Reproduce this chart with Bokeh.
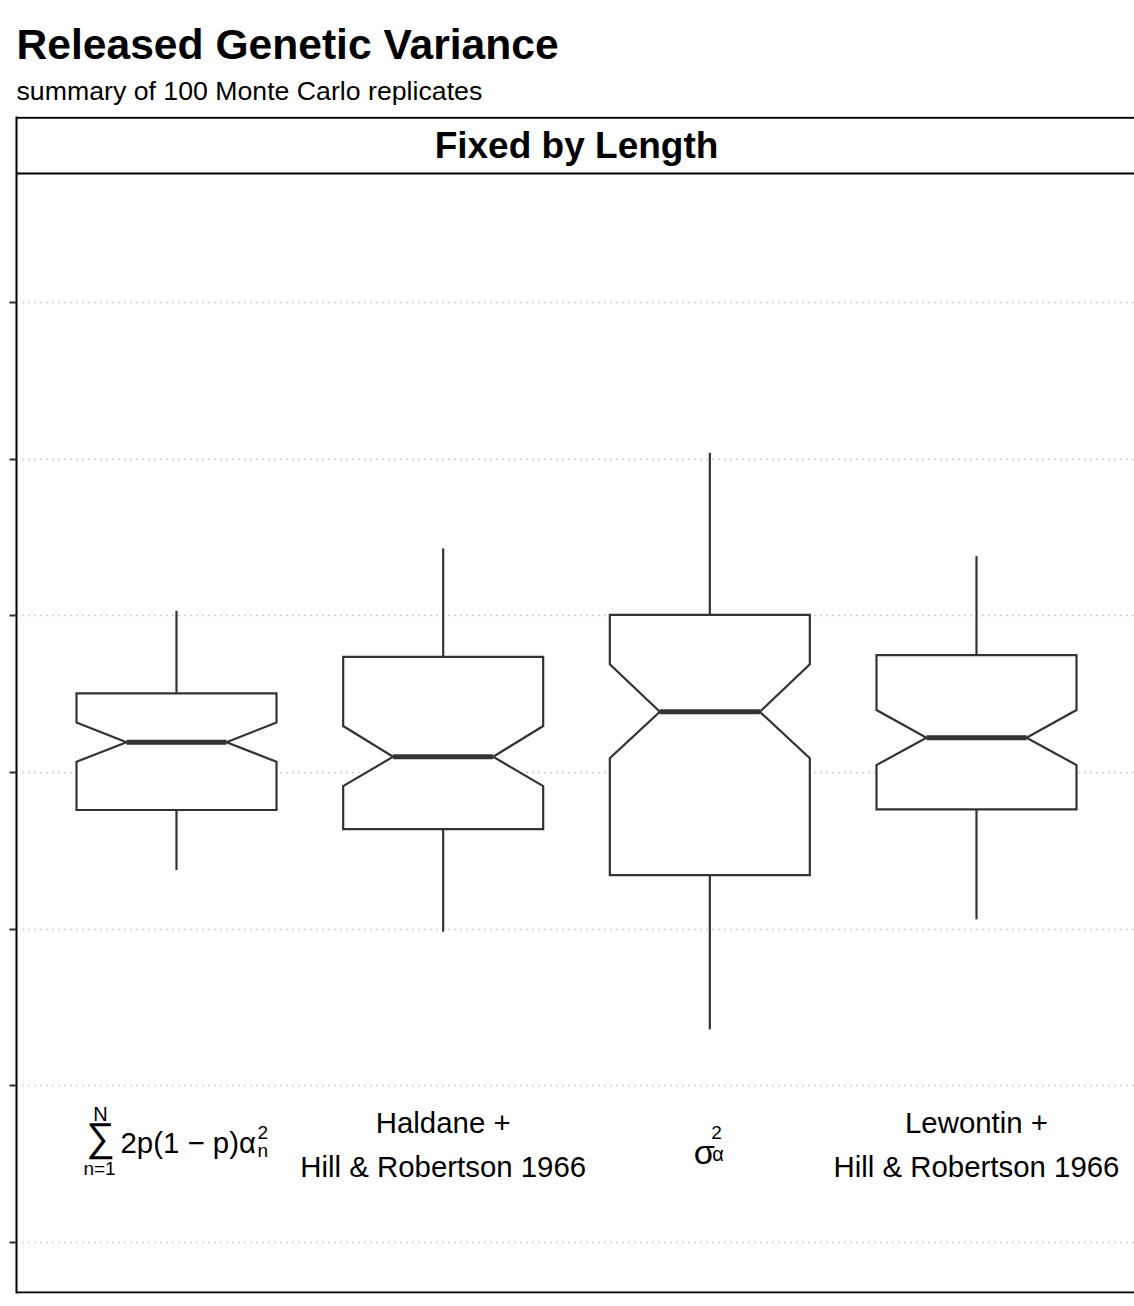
from bokeh.plotting import figure
from bokeh.models import ColumnDataSource, Range1d, FixedTicker, Span, Title
from bokeh.core.properties import value
from bokeh.embed import file_html
from bokeh.resources import INLINE

FONT = "Liberation Sans"

# ---- data ----
positions = [1, 2, 3, 4]
upper_whisker = [40.33, 44.31, 50.41, 43.82]
q3 = [35.05, 37.39, 40.07, 37.50]
notch_hi = [33.20, 32.97, 36.91, 33.99]
median = [31.93, 31.01, 33.88, 32.22]
notch_lo = [30.69, 29.14, 30.91, 30.48]
q1 = [27.61, 26.39, 23.46, 27.65]
lower_whisker = [23.78, 19.84, 13.61, 20.63]

y_ticks = [0, 10, 20, 30, 40, 50, 60]

label_line1 = ["", "Haldane +", "", "Lewontin +"]
label_line2 = ["", "Hill & Robertson 1966", "", "Hill & Robertson 1966"]

# math labels: pieces of plotmath-like expressions
math_pos = [1, 1, 1, 1, 1, 1, 3, 3, 3]
math_text = ["\u2211", "N", "n=1", "2p(1 \u2212 p)\u03b1", "2", "n", "\u03c3", "2", "\u03b1"]
math_dx = [-76, -76, -77, -56, 81, 81, -16, 1.5, 2.5]
math_dy = [-5, -28.3, 25.8, 0, -10, 8.4, 10, -9.5, 11.8]
math_size = ["40px", "20px", "19px", "29.4px", "19px", "19px", "34px", "19px", "20px"]
math_align = ["center", "center", "center", "left", "left", "left", "left", "left", "left"]
math_base = ["middle", "alphabetic", "alphabetic", "alphabetic", "alphabetic",
             "alphabetic", "alphabetic", "alphabetic", "alphabetic"]

strip_label = "Fixed by Length"
title_text = "Released Genetic Variance"
subtitle_text = "summary of 100 Monte Carlo replicates"

# ---- layout constants ----
BOX_HALF = 0.375
NOTCH_HALF = 0.1875
LABEL_Y = 6.4
STRIP_TOP = 71.79
STRIP_BOTTOM = 68.24
PANEL_BOTTOM = -3.19
INK = "#333333"

p = figure(frame_width=1118, frame_height=1177,
           x_range=Range1d(0.4, 4.5925), y_range=Range1d(-3.25, 71.875),
           x_axis_location=None, output_backend="svg", toolbar_location=None,
           min_border_left=16, min_border_right=0, min_border_bottom=6, min_border_top=116)
p.outline_line_color = None
p.background_fill_color = "white"
p.border_fill_color = "white"

# titles
p.add_layout(Title(text=subtitle_text, text_font=FONT, text_font_size="26.7px",
                   text_font_style="normal", text_color="black", align="left",
                   offset=0, standoff=21), "above")
p.add_layout(Title(text=title_text, text_font=FONT, text_font_size="42.6px",
                   text_font_style="bold", text_color="black", align="left",
                   offset=0, standoff=-8), "above")

# y axis
ax = p.yaxis[0]
ax.ticker = FixedTicker(ticks=y_ticks)
ax.major_label_overrides = {t: "" for t in y_ticks}
ax.major_label_standoff = 0
ax.axis_line_color = "black"
ax.axis_line_width = 2
ax.major_tick_line_color = INK
ax.major_tick_line_width = 2.2
ax.major_tick_out = 7
ax.major_tick_in = 0
ax.minor_tick_line_color = None

p.xgrid.grid_line_color = None
p.ygrid.grid_line_color = "#a0a0a0"
p.ygrid.grid_line_width = 1.5
p.ygrid.grid_line_dash = "1 5"

# strip and panel borders
for loc in (STRIP_TOP, STRIP_BOTTOM, PANEL_BOTTOM):
    p.add_layout(Span(location=loc, dimension="width", line_color="black", line_width=2))

p.text(x=[2.5], y=[(STRIP_TOP + STRIP_BOTTOM) / 2], text=[strip_label],
       text_font=value(FONT), text_font_size="37px", text_font_style="bold",
       text_align="center", text_baseline="middle", text_color="black")

# whiskers
p.segment(x0=positions, y0=q3, x1=positions, y1=upper_whisker, line_color=INK, line_width=2.2)
p.segment(x0=positions, y0=q1, x1=positions, y1=lower_whisker, line_color=INK, line_width=2.2)

# notched boxes
xs, ys = [], []
for x, a, nl, m, nh, b in zip(positions, q1, notch_lo, median, notch_hi, q3):
    xs.append([x - BOX_HALF, x - BOX_HALF, x - NOTCH_HALF, x - BOX_HALF, x - BOX_HALF,
               x + BOX_HALF, x + BOX_HALF, x + NOTCH_HALF, x + BOX_HALF, x + BOX_HALF])
    ys.append([a, nl, m, nh, b, b, nh, m, nl, a])
p.patches(xs=xs, ys=ys, fill_color="white", line_color=INK, line_width=2.2, line_join="miter")

# medians
p.segment(x0=[x - NOTCH_HALF for x in positions], y0=median,
          x1=[x + NOTCH_HALF for x in positions], y1=median,
          line_color=INK, line_width=5)

# category labels (plain)
lab_src = ColumnDataSource(dict(x=positions, y=[LABEL_Y] * 4, l1=label_line1, l2=label_line2))
p.text(x="x", y="y", text="l1", source=lab_src, y_offset=-20,
       text_font=value(FONT), text_font_size="29.4px", text_align="center",
       text_baseline="alphabetic", text_color="black")
p.text(x="x", y="y", text="l2", source=lab_src, y_offset=23.8,
       text_font=value(FONT), text_font_size="29.4px", text_align="center",
       text_baseline="alphabetic", text_color="black")

# math labels
m_src = ColumnDataSource(dict(x=math_pos, y=[LABEL_Y] * len(math_pos), text=math_text,
                              dx=math_dx, dy=math_dy, size=math_size,
                              align=math_align, base=math_base))
p.text(x="x", y="y", text="text", source=m_src, x_offset="dx", y_offset="dy",
       text_font=value(FONT), text_font_size="size", text_align="align",
       text_baseline="base", text_color="black")

open("out.html", "w").write(file_html(p, INLINE))
